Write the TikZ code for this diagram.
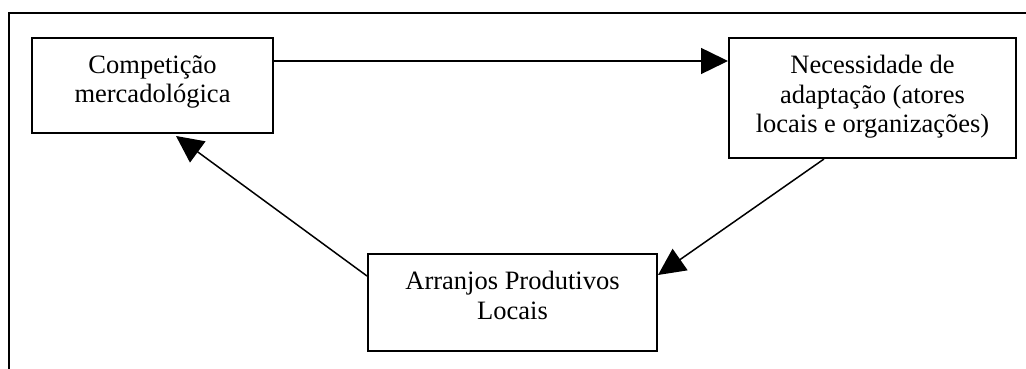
\documentclass[tikz,border=0pt]{standalone}
\usepackage{fontspec}
\setmainfont{Liberation Serif}
\usetikzlibrary{arrows.meta}
\begin{document}
\begin{tikzpicture}[x=1pt,y=1pt,
  box/.style={draw,line width=2pt,inner sep=0pt},
  txt/.style={inner sep=0pt,align=center,anchor=north,font=\fontsize{26.5}{29.5}\selectfont},
  arr/.style={line width=1.5pt,-{Triangle[length=27pt,width=26pt]}},
  frame/.style={line width=2pt}]
\useasboundingbox (0,0) rectangle (1026,369);
\draw[frame] (9,0) -- (9,356) -- (1026,356);
\node[box,minimum width=241pt,minimum height=95pt] (c) at (152.5,283.5) {};
\node[box,minimum width=287pt,minimum height=120pt] (n) at (872.5,271) {};
\node[box,minimum width=289pt,minimum height=97pt] (a) at (512.5,66.5) {};
\node[txt] (ct) at ([yshift=-18pt]c.north) {Competição\\mercadológica};
\node[txt] (nt) at ([yshift=-18pt]n.north) {Necessidade de\\adaptação (atores\\locais e organizações)};
\node[txt] (at) at ([yshift=-18pt]a.north) {Arranjos Produtivos\\Locais};
\draw[arr] ([yshift=-24pt]c.north east) -- ([yshift=-24pt]n.north west);
\draw[arr] ([xshift=96pt]n.south west) -- ([yshift=-22pt]a.north east);
\draw[arr] ([yshift=-23pt]a.north west) -- ([xshift=145pt,yshift=-2pt]c.south west);
\end{tikzpicture}
\end{document}
